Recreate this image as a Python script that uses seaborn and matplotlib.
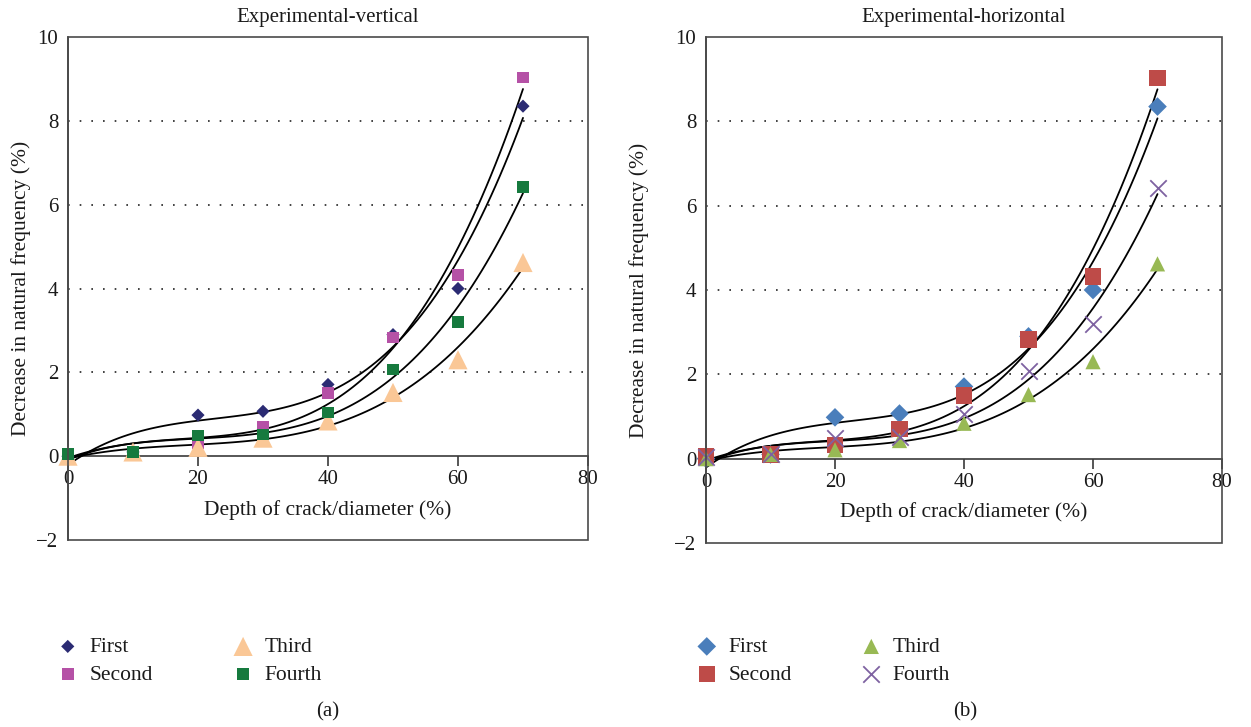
import numpy as np
import pandas as pd
import matplotlib
matplotlib.use("Agg")
import matplotlib.pyplot as plt
from matplotlib.patches import Rectangle
import seaborn as sns

sns.set_theme(style="white")
plt.rcParams['font.family'] = ['Liberation Serif', 'DejaVu Serif']

depth = [0, 10, 20, 30, 40, 50, 60, 70]
first = [0.0, 0.1, 0.98, 1.07, 1.71, 2.9, 4.0, 8.35]
second = [0.05, 0.1, 0.32, 0.7, 1.5, 2.83, 4.32, 9.03]
third = [0.0, 0.1, 0.21, 0.43, 0.84, 1.52, 2.3, 4.62]
fourth = [0.05, 0.1, 0.5, 0.52, 1.05, 2.07, 3.2, 6.42]

series_names = ["First", "Second", "Third", "Fourth"]
series_values = [first, second, third, fourth]
titles = ["Experimental-vertical", "Experimental-horizontal"]
captions = ["(a)", "(b)"]
x_ticks = [0, 20, 40, 60, 80]
y_ticks = [-2, 0, 2, 4, 6, 8, 10]

colors_a = ["#2B2B73", "#B551A6", "#FAC796", "#167A3E"]
colors_b = ["#4A7EBB", "#BE4B48", "#98B954", "#7E62A1"]
markers_a = ["D", "s", "^", "s"]
markers_b = ["D", "s", "^", "x"]
sizes_a = [45, 70, 190, 65]
sizes_b = [90, 140, 120, 140]

rows = []
for name, vals in zip(series_names, series_values):
    for d, v in zip(depth, vals):
        rows.append({"Depth": d, "Decrease": v, "Series": name})
df = pd.DataFrame(rows)

W, H = 1251, 727
fig = plt.figure(figsize=(W / 100, H / 100), dpi=100)
axA = fig.add_axes([68 / W, 1 - 540 / H, 520 / W, 503 / H])
axB = fig.add_axes([706 / W, 1 - 543 / H, 516 / W, 506 / H])

FS = 15.5
TXT = "#1a1a1a"
SP = "#3a3a3a"

configs = [
    (axA, colors_a, markers_a, sizes_a, titles[0], captions[0], -0.071,
     (57, 637), 3.7, 328),
    (axB, colors_b, markers_b, sizes_b, titles[1], captions[1], -0.11,
     (696, 637), 3.2, 965),
]

for (ax, cols, mks, szs, title, cap, ylab_x, leg_xy, colsp, cap_x) in configs:
    # cubic trend lines
    for name in series_names:
        sub = df[df.Series == name]
        sns.regplot(data=sub, x="Depth", y="Decrease", order=3, ci=None,
                    scatter=False, ax=ax,
                    line_kws=dict(color="black", lw=1.3, zorder=3))
    for name, c, m, s in zip(series_names, cols, mks, szs):
        sub = df[df.Series == name]
        kw = dict(color=c, marker=m, s=s, ax=ax, label=name, zorder=4, clip_on=False)
        if m == "x":
            kw.update(linewidth=1.3)
        else:
            kw.update(edgecolor="none")
        sns.scatterplot(data=sub, x="Depth", y="Decrease", **kw)

    ax.set_xlim(0, 80)
    ax.set_ylim(-2, 10)
    ax.set_xticks(x_ticks)
    ax.set_yticks(y_ticks)
    ax.set_yticklabels([str(t).replace("-", "\u2212") for t in y_ticks])
    for sp in ["top", "right"]:
        ax.spines[sp].set_visible(False)
    ax.spines["bottom"].set_position(("data", 0))
    for sp in ["left", "bottom"]:
        ax.spines[sp].set_color(SP)
        ax.spines[sp].set_linewidth(1.2)
    # outer frame
    ax.add_patch(Rectangle((0, 0), 1, 1, transform=ax.transAxes, fill=False,
                           edgecolor="#4a4a4a", linewidth=1.2, zorder=5,
                           clip_on=False))
    ax.tick_params(axis="x", direction="out", length=7, width=1.2, pad=3,
                   colors=SP, labelcolor=TXT, labelsize=15, bottom=True)
    ax.tick_params(axis="y", length=0, pad=7, labelcolor=TXT, labelsize=15,
                   left=True)
    ax.grid(axis="y", color="#222222", linestyle=(0, (1, 6)), linewidth=1.2)
    ax.grid(axis="x", visible=False)
    for gl, t in zip(ax.yaxis.get_gridlines(), y_ticks):
        if t in (-2, 0, 10):
            gl.set_visible(False)
    ax.set_xlabel("Depth of crack/diameter (%)", fontsize=FS, color=TXT)
    ax.xaxis.set_label_coords(0.5, 0.08)
    ax.set_ylabel("Decrease in natural frequency (%)", fontsize=FS, color=TXT)
    ax.yaxis.set_label_coords(ylab_x, 0.5)
    ax.set_title(title, fontsize=15, color=TXT, pad=11)
    ax.patch.set_alpha(0)

    leg = ax.legend(loc="upper left",
                    bbox_to_anchor=(leg_xy[0] / W, 1 - leg_xy[1] / H),
                    bbox_transform=fig.transFigure, ncol=2,
                    frameon=False, fontsize=FS, columnspacing=colsp,
                    handletextpad=0.5, labelspacing=0.35, borderpad=0,
                    borderaxespad=0, handlelength=1.0)
    for t in leg.get_texts():
        t.set_color(TXT)
    fig.text(cap_x / W, 1 - 712 / H, cap, ha="center", va="center",
             fontsize=15, color=TXT)

fig.savefig("out.png", dpi=100)
